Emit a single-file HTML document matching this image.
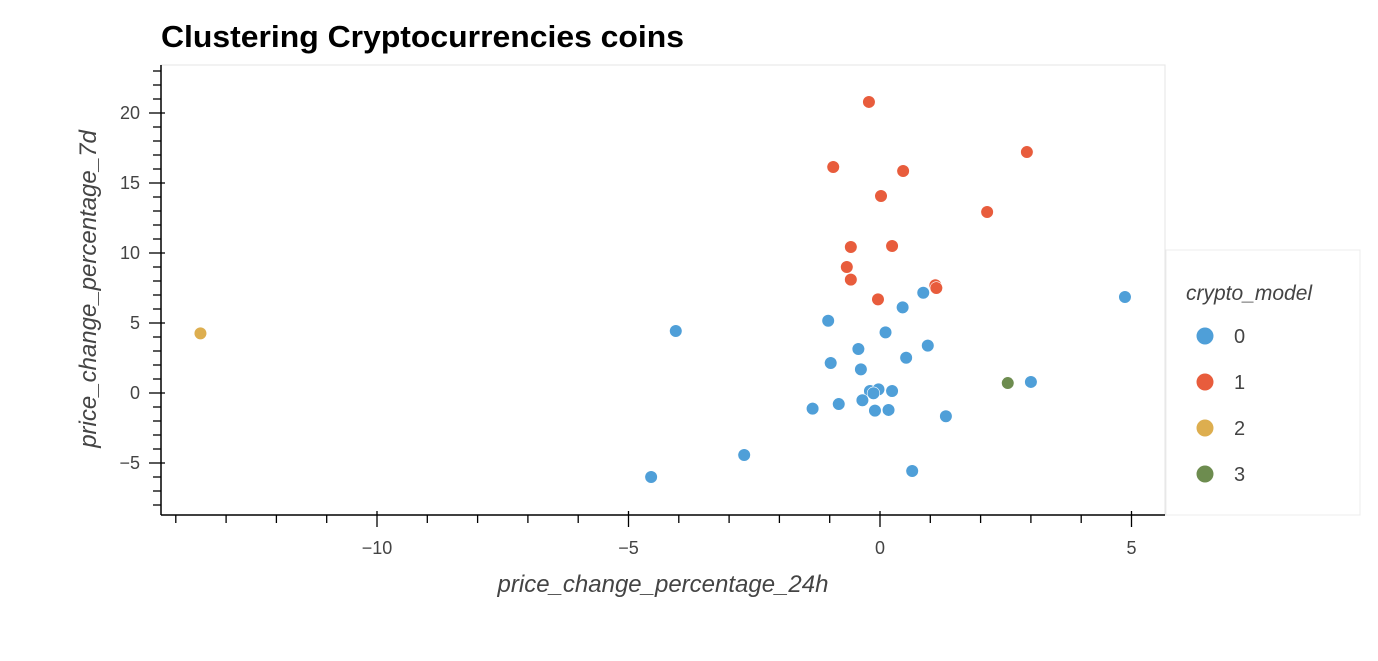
<!DOCTYPE html>
<html><head><meta charset="utf-8"><style>
body{margin:0;background:#fff;width:1378px;height:656px;overflow:hidden;font-family:"Liberation Sans",sans-serif}
svg text{font-family:"Liberation Sans",sans-serif}
</style></head><body>
<svg id="chart" width="1378" height="656">
<text x="161" y="47" font-size="31" font-weight="bold" fill="#000" textLength="523" lengthAdjust="spacingAndGlyphs">Clustering Cryptocurrencies coins</text>
<rect x="161" y="65" width="1004" height="450" fill="#fff" stroke="#e5e5e5"/>
<g id="axes"></g>
<g id="points"></g>
<text x="663" y="592" font-size="24" font-style="italic" fill="#444" text-anchor="middle">price_change_percentage_24h</text>
<text transform="translate(96,289) rotate(-90)" font-size="24" font-style="italic" fill="#444" text-anchor="middle">price_change_percentage_7d</text>
<g>
<rect x="1166" y="250" width="194" height="265" fill="#fff" stroke="#ececec"/>
<text x="1186" y="300" font-size="21" font-style="italic" fill="#444">crypto_model</text>
<g id="legend"></g>
</g>
</svg>
<script>
const clusters=[0,1,2,3];
const colors=["#4f9fd8","#e85c3c","#ddae4f","#6d8c4f"];
const xTicks=[-10,-5,0,5];
const yTicks=[-5,0,5,10,15,20];
const xs=[-1.03,-0.43,0.95,-0.98,0.52,-0.38,-0.2,-0.03,-0.13,0.24,-0.35,-0.82,-1.34,-0.1,0.17,1.31,0.64,0.86,0.45,0.11,-4.06,-4.55,-2.70,4.87,3.0,
 -0.58,-0.04,1.10,1.12,-0.22,-0.93,0.46,0.02,2.92,2.13,-0.58,0.24,-0.66,
 -13.51,2.54];
const ys=[5.16,3.14,3.38,2.14,2.52,1.69,0.14,0.26,-0.02,0.14,-0.52,-0.79,-1.12,-1.26,-1.21,-1.66,-5.57,7.16,6.12,4.33,4.43,-6.0,-4.43,6.86,0.79,
 8.1,6.69,7.7,7.5,20.79,16.14,15.86,14.07,17.21,12.93,10.43,10.5,9.0,
 4.26,0.71];
const cls=[0,0,0,0,0,0,0,0,0,0,0,0,0,0,0,0,0,0,0,0,0,0,0,0,0,
 1,1,1,1,1,1,1,1,1,1,1,1,1,
 2,3];
const NS="http://www.w3.org/2000/svg";
const sx=v=>880+v*50.3, sy=v=>393-v*14;
function mk(t,a,p){const e=document.createElementNS(NS,t);for(const k in a)e.setAttribute(k,a[k]);p.appendChild(e);return e;}
const ax=document.getElementById('axes');
mk('line',{x1:161,y1:65,x2:161,y2:515,stroke:'#000','stroke-width':1.5},ax);
mk('line',{x1:161,y1:515,x2:1165,y2:515,stroke:'#000','stroke-width':1.5},ax);
for(let v=-8;v<=23;v++){const y=sy(v);const major=v%5===0;
 const l=mk('line',{x1:major?149:153,x2:major?165:161,y1:y,y2:y,stroke:'#000','stroke-width':1.3},ax);
 
 }
for(let v=-14;v<=5;v++){const x=sx(v);const major=v%5===0;
 const l=mk('line',{x1:x,x2:x,y1:major?511:515,y2:major?527:523,stroke:'#000','stroke-width':1.3},ax);
 
 }
yTicks.forEach(v=>{const t=mk('text',{x:140,y:sy(v)+6,'font-size':18,fill:'#444','text-anchor':'end'},ax);t.textContent=v<0?'\u2212'+(-v):v;
 
 });
xTicks.forEach(v=>{const t=mk('text',{x:sx(v),y:554,'font-size':18,fill:'#444','text-anchor':'middle'},ax);t.textContent=v<0?'\u2212'+(-v):v;
 
 });
const pg=document.getElementById('points');
xs.forEach((x,i)=>{const c=mk('circle',{cx:sx(x),cy:sy(ys[i]),r:6.3,fill:colors[cls[i]],stroke:'#fff','stroke-width':0.6},pg);
 
 });
const lg=document.getElementById('legend');
clusters.forEach((c,i)=>{const y=336+i*46;
 const d=mk('circle',{cx:1205,cy:y,r:8.5,fill:colors[i]},lg);
 
 
 const t=mk('text',{x:1234,y:y+7,'font-size':20,fill:'#444'},lg);t.textContent=c;
 
 });
</script>
</body></html>
